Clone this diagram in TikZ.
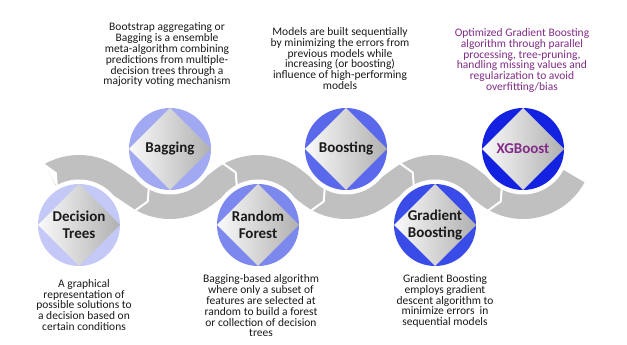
\documentclass[tikz,border=0pt]{standalone}
\usepackage{fontspec}
\setmainfont{Carlito}
\usetikzlibrary{calc}
\definecolor{bandgray}{HTML}{C0C0C0}
\definecolor{col1}{HTML}{C3C8F6}
\definecolor{col2}{HTML}{A2A9F3}
\definecolor{col3}{HTML}{7D88EF}
\definecolor{col4}{HTML}{5A68EC}
\definecolor{col5}{HTML}{3A4CE8}
\definecolor{col6}{HTML}{1322E0}
\definecolor{xgpurple}{HTML}{822C88}
\definecolor{txt}{HTML}{1A1A1A}
\begin{document}
\begin{tikzpicture}[x=1pt,y=1pt,
  desc/.style={align=center, font=\fontsize{11.5}{10.8}\selectfont, text=txt, inner sep=0pt},
  lbl/.style={align=center, font=\fontsize{15}{16.5}\selectfont\bfseries, text=txt, inner sep=0pt},
  sep/.style={white, line width=2, line join=miter},
  ring/.style={fill=white},
]
\useasboundingbox (0,0) rectangle (627,345);
\fill[white] (0,0) rectangle (627,345);
\coordinate (c1) at (79,120);
\coordinate (c2) at (170,196);
\coordinate (c3) at (258,120);
\coordinate (c4) at (346,196);
\coordinate (c5) at (435,120);
\coordinate (c6) at (523,196);

% belt
\draw[bandgray, line width=26]
  ($(c1)+(120:57)$) arc[start angle=120, end angle=53.4, radius=57]
  -- ($(c2)+(233.4:57)$) arc[start angle=233.4, end angle=306.6, radius=57]
  -- ($(c3)+(126.6:57)$) arc[start angle=126.6, end angle=53.4, radius=57]
  -- ($(c4)+(233.4:57)$) arc[start angle=233.4, end angle=306.6, radius=57]
  -- ($(c5)+(126.6:57)$) arc[start angle=126.6, end angle=53.4, radius=57]
  -- ($(c6)+(233.4:57)$) arc[start angle=233.4, end angle=332, radius=57];
% tail notch
\fill[white] ($(c1)+(120:72)$) -- ($(c1)+(113:57)$) -- ($(c1)+(120:42)$) -- cycle;
% segment separators
\draw[sep] ($(c2)+(240:72)$) -- ($(c2)+(247:57)$) -- ($(c2)+(240:42)$);
\draw[sep] ($(c3)+(120:72)$) -- ($(c3)+(113:57)$) -- ($(c3)+(120:42)$);
\draw[sep] ($(c4)+(240:72)$) -- ($(c4)+(247:57)$) -- ($(c4)+(240:42)$);
\draw[sep] ($(c5)+(120:72)$) -- ($(c5)+(113:57)$) -- ($(c5)+(120:42)$);
\draw[sep] ($(c6)+(240:72)$) -- ($(c6)+(247:57)$) -- ($(c6)+(240:42)$);

% circles with diamonds
\foreach \c/\col in {c1/col1, c2/col2, c3/col3, c4/col4, c5/col5, c6/col6}{
  \fill[white] (\c) circle (45.5);
  \fill[\col] (\c) circle (41);
  \shade[left color=gray!4, right color=gray!62]
    ($(\c)+(41,0)$) -- ($(\c)+(0,41)$) -- ($(\c)+(-41,0)$) -- ($(\c)+(0,-41)$) -- cycle;
}

% labels
\node[lbl] (l1) at (c1) {Decision\\Trees};
\node[lbl] (l2) at (c2) {Bagging};
\node[lbl] (l3) at (c3) {Random\\Forest};
\node[lbl] (l4) at (c4) {Boosting};
\node[lbl] (l5) at (c5) {Gradient\\Boosting};
\node[lbl, text=xgpurple] (l6) at (c6) {XGBoost};

% descriptions
\node[desc] (d2) at (167,290) {Bootstrap aggregating or\\Bagging is a ensemble\\meta-algorithm combining\\predictions from multiple-\\decision trees through a\\majority voting mechanism};
\node[desc] (d4) at (340,286.5) {Models are built sequentially\\by minimizing the errors from\\previous models while\\increasing (or boosting)\\influence of high-performing\\models};
\node[desc, text=xgpurple] (d6) at (522,284.5) {Optimized Gradient Boosting\\algorithm through parallel\\processing, tree-pruning,\\handling missing values and\\regularization to avoid\\overfitting/bias};
\node[desc] (d1) at (84,40) {A graphical\\representation of\\possible solutions to\\a decision based on\\certain conditions};
\node[desc] (d3) at (261,39) {Bagging-based algorithm\\where only a subset of\\features are selected at\\random to build a forest\\or collection of decision\\trees};
\node[desc] (d5) at (445,44) {Gradient Boosting\\employs gradient\\descent algorithm to\\minimize errors\ \ in\\sequential models};
\end{tikzpicture}
\end{document}
